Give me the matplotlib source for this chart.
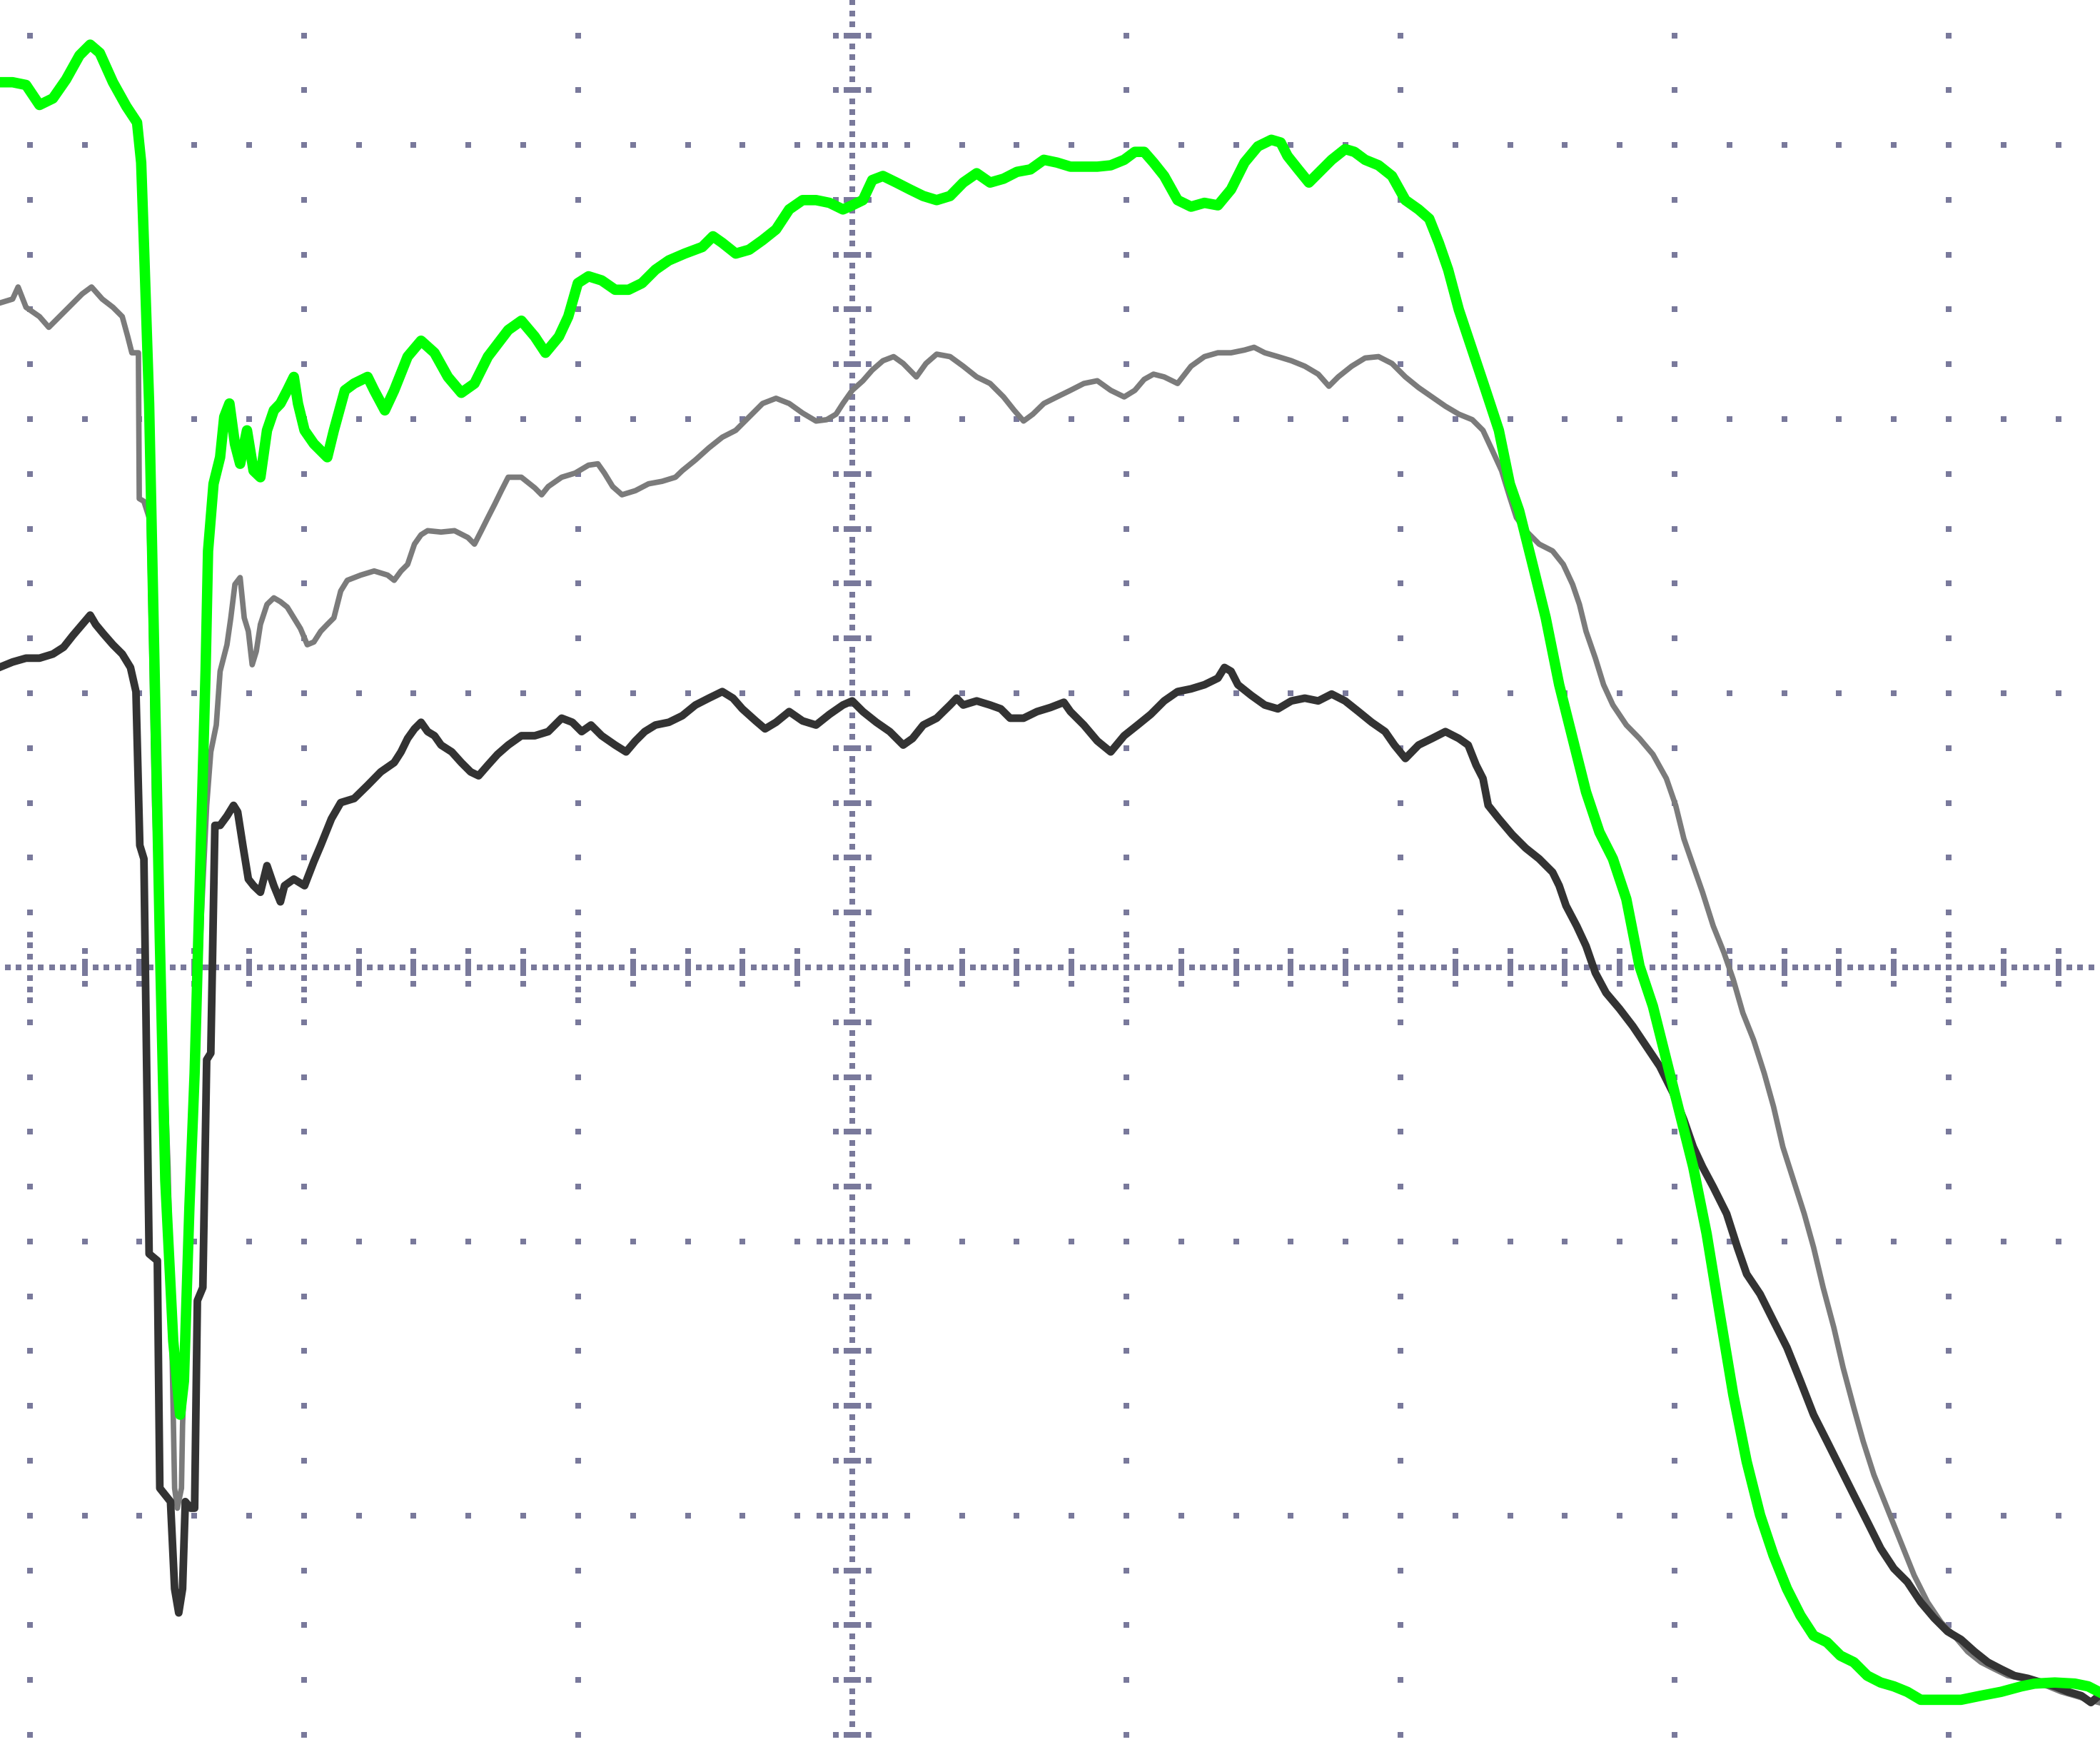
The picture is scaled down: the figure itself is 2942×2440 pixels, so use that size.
"""Three-channel scope capture, redrawn on a dotted graticule."""

import numpy as np
import matplotlib
matplotlib.use('Agg')
import matplotlib.pyplot as plt

# Trace samples, in screen divisions (x: time, y: amplitude), centre = (0, 0)
green_x = [-3.112, -3.063, -3.014, -2.965, -2.916, -2.868, -2.819, -2.780, -2.745, -2.697,
           -2.648, -2.609, -2.594, -2.584, -2.565, -2.545, -2.526, -2.506, -2.477, -2.452,
           -2.438, -2.418, -2.399, -2.379, -2.359, -2.350, -2.330, -2.306, -2.291, -2.272,
           -2.252, -2.233, -2.208, -2.184, -2.159, -2.135, -2.110, -2.086, -2.061, -2.037,
           -2.022, -1.998, -1.964, -1.915, -1.891, -1.851, -1.817, -1.768, -1.744, -1.705,
           -1.671, -1.622, -1.573, -1.524, -1.475, -1.426, -1.378, -1.329, -1.255, -1.207,
           -1.158, -1.119, -1.070, -1.036, -1.001, -0.962, -0.914, -0.865, -0.816, -0.767,
           -0.718, -0.669, -0.611, -0.547, -0.508, -0.474, -0.425, -0.376, -0.327, -0.278,
           -0.230, -0.181, -0.132, -0.083, -0.034, 0.000, 0.039, 0.073, 0.112, 0.161,
           0.210, 0.259, 0.308, 0.357, 0.405, 0.454, 0.503, 0.552, 0.601, 0.650,
           0.699, 0.747, 0.796, 0.894, 0.943, 0.992, 1.031, 1.065, 1.099, 1.138,
           1.187, 1.236, 1.285, 1.334, 1.382, 1.431, 1.480, 1.529, 1.563, 1.588,
           1.627, 1.666, 1.700, 1.749, 1.798, 1.832, 1.871, 1.920, 1.969, 2.018,
           2.066, 2.105, 2.140, 2.174, 2.213, 2.262, 2.311, 2.359, 2.399, 2.433,
           2.482, 2.530, 2.579, 2.628, 2.677, 2.726, 2.775, 2.824, 2.872, 2.921,
           2.970, 3.019, 3.068, 3.117, 3.165, 3.214, 3.263, 3.312, 3.361, 3.410,
           3.459, 3.507, 3.556, 3.605, 3.654, 3.703, 3.752, 3.800, 3.849, 3.898,
           3.972, 4.045, 4.118, 4.191, 4.265, 4.313, 4.387, 4.460, 4.509, 4.548]
green_y = [3.229, 3.229, 3.219, 3.146, 3.170, 3.239, 3.327, 3.366, 3.336, 3.229,
           3.141, 3.082, 2.936, 2.643, 2.057, 1.080, 0.103, -0.777, -1.363, -1.632,
           -1.509, -0.874, -0.386, 0.347, 1.080, 1.519, 1.764, 1.861, 2.008, 2.057,
           1.910, 1.837, 1.959, 1.812, 1.788, 1.959, 2.032, 2.057, 2.105, 2.154,
           2.057, 1.959, 1.910, 1.861, 1.959, 2.105, 2.130, 2.154, 2.105, 2.032,
           2.105, 2.228, 2.286, 2.242, 2.154, 2.096, 2.130, 2.228, 2.325, 2.359,
           2.301, 2.242, 2.301, 2.374, 2.496, 2.521, 2.506, 2.472, 2.472, 2.496,
           2.545, 2.579, 2.604, 2.628, 2.667, 2.643, 2.604, 2.618, 2.653, 2.692,
           2.765, 2.799, 2.799, 2.789, 2.765, 2.780, 2.799, 2.872, 2.887, 2.863,
           2.838, 2.814, 2.799, 2.814, 2.863, 2.897, 2.863, 2.877, 2.902, 2.911,
           2.946, 2.936, 2.921, 2.921, 2.926, 2.946, 2.975, 2.975, 2.936, 2.887,
           2.799, 2.775, 2.789, 2.780, 2.838, 2.936, 2.995, 3.019, 3.009, 2.960,
           2.911, 2.863, 2.897, 2.946, 2.985, 2.975, 2.946, 2.926, 2.887, 2.799,
           2.765, 2.731, 2.643, 2.545, 2.399, 2.252, 2.105, 1.959, 1.764, 1.666,
           1.470, 1.275, 1.031, 0.835, 0.640, 0.493, 0.396, 0.249, 0.005, -0.142,
           -0.337, -0.532, -0.728, -0.972, -1.265, -1.558, -1.803, -1.998, -2.145, -2.267,
           -2.364, -2.438, -2.462, -2.511, -2.535, -2.584, -2.609, -2.623, -2.643, -2.672,
           -2.672, -2.672, -2.657, -2.643, -2.623, -2.613, -2.609, -2.613, -2.623, -2.643]

gray_x = [-3.112, -3.063, -3.043, -3.014, -2.965, -2.931, -2.892, -2.843, -2.809, -2.775,
          -2.736, -2.697, -2.663, -2.643, -2.628, -2.604, -2.601, -2.584, -2.565, -2.560,
          -2.545, -2.530, -2.516, -2.496, -2.482, -2.472, -2.462, -2.447, -2.443, -2.433,
          -2.418, -2.403, -2.389, -2.374, -2.355, -2.340, -2.320, -2.306, -2.281, -2.267,
          -2.252, -2.233, -2.218, -2.203, -2.189, -2.174, -2.159, -2.135, -2.110, -2.086,
          -2.061, -2.037, -2.013, -1.988, -1.964, -1.939, -1.915, -1.891, -1.866, -1.842,
          -1.793, -1.744, -1.695, -1.671, -1.646, -1.622, -1.597, -1.573, -1.549, -1.500,
          -1.451, -1.402, -1.378, -1.353, -1.329, -1.304, -1.280, -1.255, -1.207, -1.158,
          -1.133, -1.109, -1.060, -1.011, -0.962, -0.928, -0.904, -0.874, -0.840, -0.791,
          -0.743, -0.694, -0.645, -0.620, -0.572, -0.523, -0.474, -0.425, -0.376, -0.327,
          -0.278, -0.230, -0.181, -0.132, -0.093, -0.059, -0.034, 0.000, 0.039, 0.073,
          0.112, 0.151, 0.186, 0.234, 0.269, 0.308, 0.357, 0.405, 0.454, 0.503,
          0.552, 0.591, 0.625, 0.659, 0.699, 0.747, 0.796, 0.845, 0.894, 0.943,
          0.992, 1.031, 1.065, 1.099, 1.138, 1.187, 1.236, 1.285, 1.334, 1.382,
          1.431, 1.466, 1.505, 1.553, 1.602, 1.651, 1.700, 1.739, 1.773, 1.822,
          1.871, 1.920, 1.969, 2.018, 2.066, 2.115, 2.164, 2.213, 2.262, 2.301,
          2.335, 2.369, 2.399, 2.423, 2.457, 2.506, 2.555, 2.594, 2.628, 2.653,
          2.677, 2.711, 2.741, 2.775, 2.824, 2.872, 2.921, 2.970, 3.004, 3.034,
          3.068, 3.102, 3.141, 3.180, 3.214, 3.249, 3.288, 3.327, 3.361, 3.395,
          3.434, 3.473, 3.507, 3.542, 3.581, 3.615, 3.654, 3.688, 3.727, 3.776,
          3.825, 3.874, 3.923, 3.972, 4.020, 4.069, 4.118, 4.167, 4.216, 4.265,
          4.313, 4.362, 4.411, 4.460, 4.509, 4.548]
gray_y = [2.423, 2.438, 2.482, 2.408, 2.374, 2.335, 2.374, 2.423, 2.457, 2.482,
          2.438, 2.408, 2.374, 2.301, 2.242, 2.242, 1.710, 1.700, 1.641, 1.422,
          0.591, 0.151, -0.191, -0.728, -1.363, -1.900, -1.973, -1.900, -1.671, -1.363,
          -0.874, -0.532, -0.191, 0.200, 0.591, 0.786, 0.884, 1.080, 1.177, 1.275,
          1.397, 1.422, 1.275, 1.226, 1.104, 1.153, 1.251, 1.324, 1.348, 1.334,
          1.314, 1.275, 1.236, 1.177, 1.187, 1.226, 1.251, 1.275, 1.373, 1.412,
          1.431, 1.446, 1.431, 1.412, 1.446, 1.470, 1.544, 1.578, 1.593, 1.588,
          1.593, 1.568, 1.544, 1.593, 1.641, 1.690, 1.739, 1.788, 1.788, 1.749,
          1.724, 1.754, 1.788, 1.803, 1.832, 1.837, 1.803, 1.754, 1.724, 1.739,
          1.764, 1.773, 1.788, 1.812, 1.851, 1.895, 1.934, 1.959, 2.008, 2.057,
          2.076, 2.057, 2.022, 1.993, 1.998, 2.018, 2.057, 2.105, 2.140, 2.179,
          2.213, 2.228, 2.203, 2.154, 2.203, 2.237, 2.228, 2.193, 2.154, 2.130,
          2.081, 2.032, 1.993, 2.018, 2.057, 2.081, 2.105, 2.130, 2.140, 2.105,
          2.081, 2.105, 2.145, 2.164, 2.154, 2.130, 2.193, 2.228, 2.242, 2.242,
          2.252, 2.262, 2.242, 2.228, 2.213, 2.193, 2.164, 2.120, 2.154, 2.193,
          2.223, 2.228, 2.203, 2.154, 2.115, 2.081, 2.047, 2.018, 1.998, 1.959,
          1.886, 1.812, 1.715, 1.641, 1.593, 1.544, 1.519, 1.470, 1.397, 1.324,
          1.226, 1.128, 1.031, 0.957, 0.884, 0.835, 0.777, 0.689, 0.591, 0.469,
          0.371, 0.274, 0.151, 0.054, -0.044, -0.166, -0.264, -0.386, -0.508, -0.655,
          -0.777, -0.899, -1.021, -1.168, -1.314, -1.461, -1.607, -1.729, -1.851, -1.974,
          -2.096, -2.218, -2.316, -2.389, -2.438, -2.496, -2.535, -2.560, -2.584, -2.594,
          -2.609, -2.623, -2.643, -2.657, -2.672, -2.682]

dark_x = [-3.112, -3.063, -3.014, -2.965, -2.916, -2.877, -2.843, -2.809, -2.780, -2.760,
          -2.731, -2.697, -2.663, -2.633, -2.613, -2.599, -2.584, -2.565, -2.535, -2.526,
          -2.506, -2.487, -2.472, -2.457, -2.443, -2.433, -2.413, -2.399, -2.389, -2.369,
          -2.355, -2.340, -2.325, -2.306, -2.281, -2.257, -2.242, -2.223, -2.203, -2.184,
          -2.159, -2.135, -2.110, -2.086, -2.071, -2.037, -1.998, -1.964, -1.939, -1.900,
          -1.866, -1.817, -1.768, -1.720, -1.671, -1.646, -1.622, -1.597, -1.573, -1.549,
          -1.524, -1.500, -1.461, -1.426, -1.392, -1.363, -1.329, -1.294, -1.255, -1.207,
          -1.158, -1.109, -1.060, -1.021, -0.987, -0.953, -0.914, -0.865, -0.825, -0.791,
          -0.757, -0.718, -0.669, -0.620, -0.572, -0.523, -0.474, -0.435, -0.401, -0.352,
          -0.318, -0.278, -0.230, -0.181, -0.132, -0.083, -0.034, 0.000, 0.039, 0.088,
          0.137, 0.186, 0.220, 0.259, 0.308, 0.357, 0.381, 0.405, 0.454, 0.503,
          0.542, 0.576, 0.625, 0.674, 0.723, 0.772, 0.796, 0.845, 0.894, 0.943,
          0.992, 1.041, 1.089, 1.138, 1.187, 1.236, 1.285, 1.334, 1.358, 1.382,
          1.407, 1.456, 1.505, 1.553, 1.602, 1.651, 1.700, 1.749, 1.798, 1.847,
          1.895, 1.944, 1.978, 2.018, 2.066, 2.115, 2.164, 2.213, 2.247, 2.276,
          2.301, 2.320, 2.359, 2.408, 2.457, 2.506, 2.555, 2.579, 2.604, 2.643,
          2.677, 2.711, 2.750, 2.799, 2.848, 2.897, 2.946, 2.995, 3.034, 3.068,
          3.102, 3.141, 3.190, 3.229, 3.263, 3.312, 3.361, 3.410, 3.459, 3.507,
          3.556, 3.605, 3.654, 3.703, 3.752, 3.800, 3.849, 3.898, 3.947, 3.996,
          4.045, 4.094, 4.143, 4.191, 4.240, 4.289, 4.338, 4.387, 4.436, 4.484,
          4.519, 4.548]
dark_y = [1.094, 1.114, 1.128, 1.128, 1.143, 1.168, 1.211, 1.251, 1.285, 1.251,
          1.216, 1.177, 1.143, 1.094, 1.006, 0.445, 0.396, -1.045, -1.070, -1.900,
          -1.925, -1.949, -2.267, -2.355, -2.267, -1.949, -1.973, -1.973, -1.216, -1.168,
          -0.337, -0.313, 0.518, 0.518, 0.552, 0.591, 0.567, 0.445, 0.322, 0.298,
          0.274, 0.371, 0.298, 0.239, 0.298, 0.322, 0.298, 0.386, 0.445, 0.542,
          0.601, 0.616, 0.664, 0.713, 0.747, 0.786, 0.835, 0.870, 0.894, 0.860,
          0.845, 0.811, 0.786, 0.747, 0.713, 0.699, 0.738, 0.777, 0.811, 0.845,
          0.845, 0.860, 0.909, 0.894, 0.860, 0.884, 0.845, 0.811, 0.786, 0.826,
          0.860, 0.884, 0.894, 0.918, 0.957, 0.982, 1.006, 0.982, 0.943, 0.899,
          0.870, 0.894, 0.933, 0.899, 0.884, 0.923, 0.957, 0.972, 0.933, 0.894,
          0.860, 0.811, 0.835, 0.884, 0.909, 0.957, 0.982, 0.957, 0.972, 0.957,
          0.943, 0.909, 0.909, 0.933, 0.948, 0.967, 0.933, 0.884, 0.826, 0.786,
          0.845, 0.884, 0.923, 0.972, 1.006, 1.016, 1.031, 1.055, 1.094, 1.080,
          1.031, 0.992, 0.957, 0.943, 0.972, 0.982, 0.972, 0.997, 0.972, 0.933,
          0.894, 0.860, 0.811, 0.762, 0.811, 0.835, 0.860, 0.835, 0.811, 0.738,
          0.689, 0.591, 0.542, 0.484, 0.435, 0.396, 0.347, 0.298, 0.225, 0.151,
          0.078, -0.020, -0.093, -0.151, -0.215, -0.288, -0.361, -0.459, -0.557, -0.655,
          -0.728, -0.801, -0.899, -1.021, -1.119, -1.192, -1.290, -1.387, -1.509, -1.632,
          -1.729, -1.827, -1.925, -2.022, -2.120, -2.193, -2.242, -2.316, -2.374, -2.423,
          -2.452, -2.496, -2.535, -2.560, -2.584, -2.594, -2.609, -2.623, -2.643, -2.657,
          -2.682, -2.657]

# visible window of the screen, in divisions
X_MIN, X_MAX = -3.109, 4.552
Y_MIN, Y_MAX = -2.826, 3.529
PX = 0.02          # one screen pixel = 1/50 division
GRID_COLOR = '#79799b'


def graticule_points():
    """Dot positions of the scope graticule (major lines, centre axes, ticks)."""
    pts = set()
    minor = np.arange(-20, 25) * 10          # every 10 px
    # dotted major lines
    for xk in range(-3, 5):
        for m in minor:
            pts.add((xk * 50, int(m)))
    for yk in range(-2, 4):
        for m in minor:
            pts.add((int(m), yk * 50))
    # centre axes: dots every 2 px, ticks every 10 px
    for n in range(-240, 241, 2):
        if n % 50 == 0:
            for d in (-6, -4, -2, 0, 2, 4, 6):
                pts.add((n, d))
                pts.add((d, n))
        elif n % 10 == 0:
            for d in (-3, -1, 0, 1, 3):
                pts.add((n, d))
                pts.add((d, n))
        else:
            pts.add((n, 0))
            pts.add((0, n))
    arr = np.array(sorted(pts), dtype=float) * PX
    keep = ((arr[:, 0] > X_MIN) & (arr[:, 0] < X_MAX)
            & (arr[:, 1] > Y_MIN) & (arr[:, 1] < Y_MAX))
    return arr[keep]


fig = plt.figure(figsize=(29.42, 24.40), dpi=100)
ax = fig.add_axes([0, 0, 1, 1])
ax.set_xlim(X_MIN, X_MAX)
ax.set_ylim(Y_MIN, Y_MAX)
ax.axis('off')

# one screen pixel in points
px_pt = (2942 / (X_MAX - X_MIN)) * PX * 72 / 100

g = graticule_points()
ax.scatter(g[:, 0], g[:, 1], marker='s', s=px_pt ** 2, color=GRID_COLOR,
           linewidths=0, zorder=1)

ax.plot(gray_x, gray_y, color='#7b7b7b', lw=px_pt, zorder=2)
ax.plot(dark_x, dark_y, color='#333333', lw=px_pt * 1.4, zorder=3)
ax.plot(green_x, green_y, color='#00ff00', lw=px_pt * 1.9, zorder=4)

fig.savefig('out.png', dpi=100, facecolor='white')
plt.close(fig)
